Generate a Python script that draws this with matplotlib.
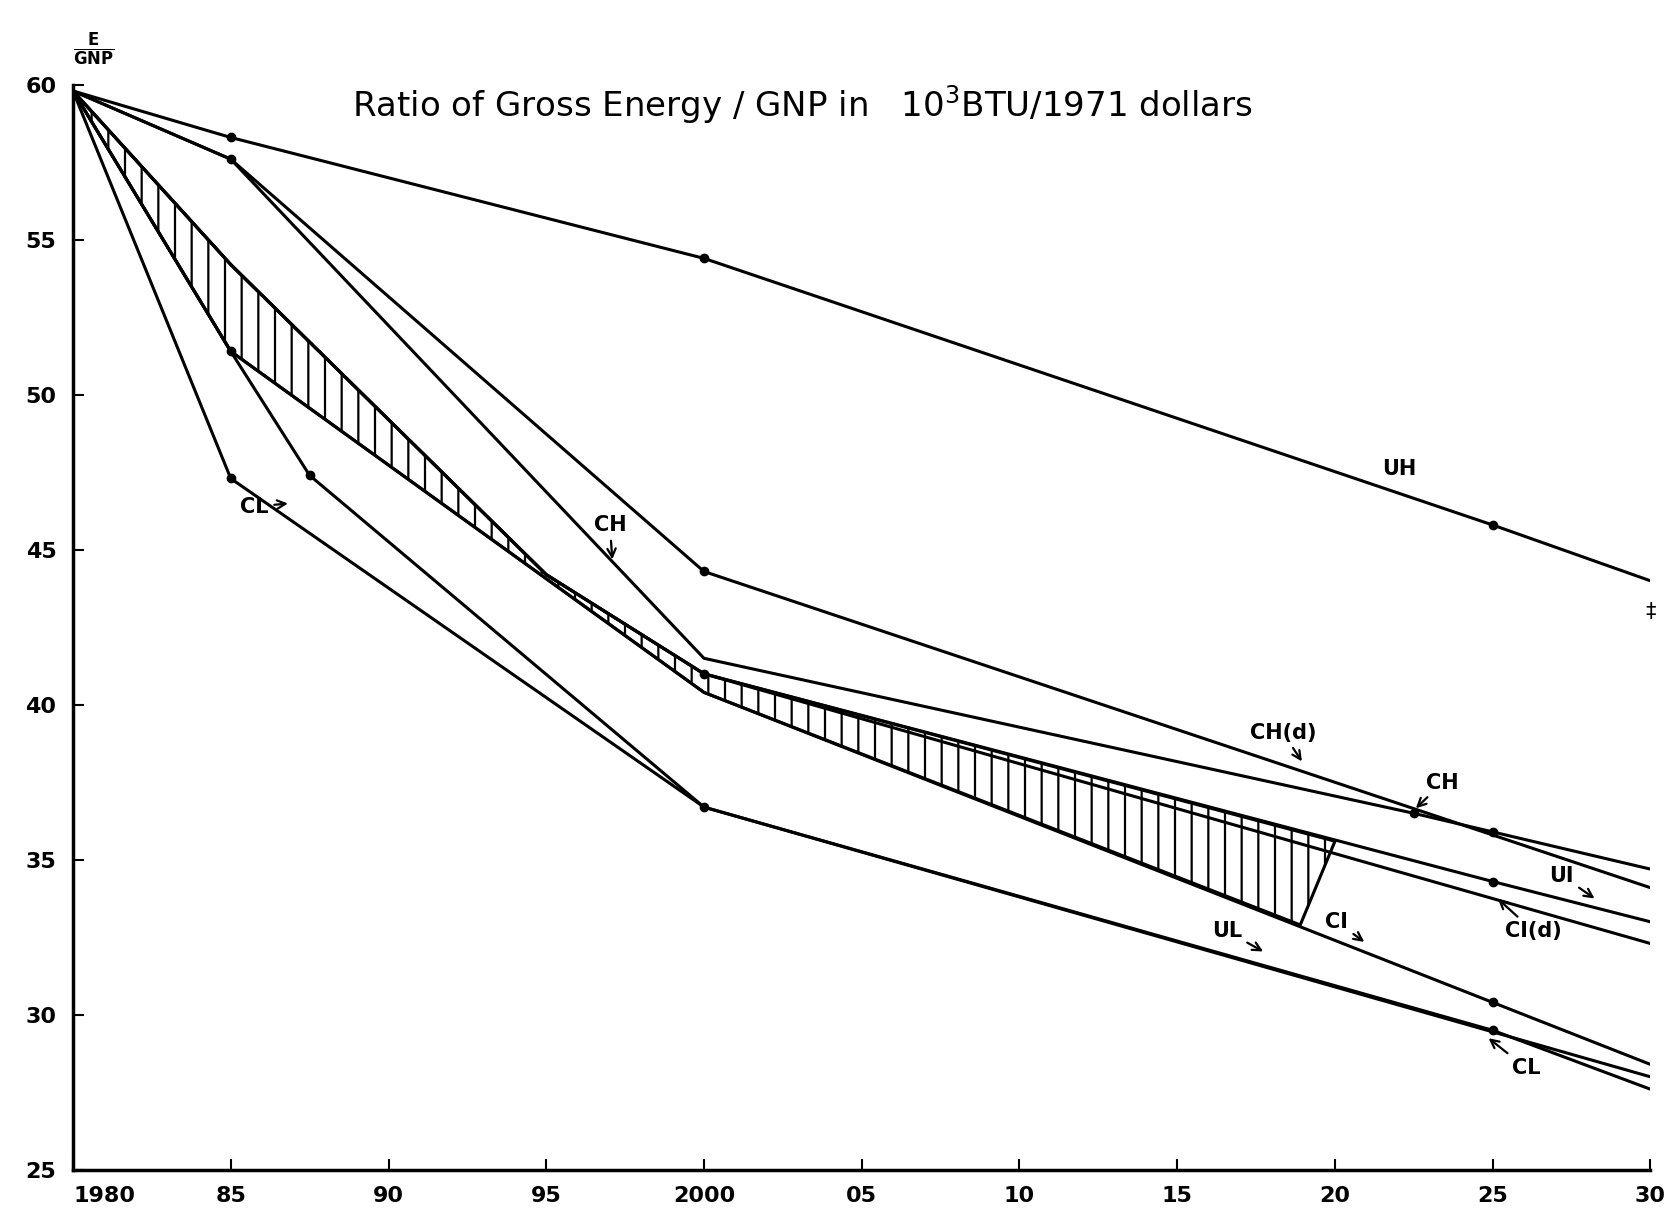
import matplotlib
matplotlib.use("Agg")
import matplotlib.pyplot as plt

plt.rcParams["hatch.linewidth"] = 1.6

# E/GNP scenarios, 10^3 BTU per 1971 dollar
uh_yr = [1980, 1985, 2000, 2025, 2030]
uh = [59.8, 58.3, 54.4, 45.8, 44.0]

chd_yr = [1980, 1985, 2000, 2030]
chd = [59.8, 57.6, 44.3, 34.1]

ch_yr = [1980, 1985, 2000, 2022.5, 2025, 2030]
ch = [59.8, 57.6, 41.5, 36.5, 35.9, 34.7]

ui_yr = [1980, 1985, 1995, 2000, 2025, 2030]
ui = [59.8, 54.2, 44.2, 41.0, 34.3, 33.0]

cid_yr = [1980, 1985, 1995, 2000, 2030]
cid = [59.8, 54.2, 44.2, 41.0, 32.3]

ci_yr = [1980, 1985, 2000, 2025, 2030]
ci = [59.8, 51.4, 40.4, 30.4, 28.4]

ul_yr = [1980, 1985, 1987.5, 2000, 2030]
ul = [59.8, 51.4, 47.4, 36.7, 28.0]

cl_yr = [1980, 1985, 2000, 2025, 2030]
cl = [59.8, 47.3, 36.7, 29.5, 27.6]

# hatched band between UI (top) and CI (bottom), closed at 2020
band_top_yr = [1980, 1985, 1995, 2000, 2020]
band_top = [59.8, 54.2, 44.2, 41.0, 35.6]
band_bot_yr = [2018.9, 2000, 1985, 1980]
band_bot = [32.9, 40.4, 51.4, 59.8]

xticks = [1980, 1985, 1990, 1995, 2000, 2005, 2010, 2015, 2020, 2025, 2030]
xlabels = ["1980", "85", "90", "95", "2000", "05", "10", "15", "20", "25", "30"]
yticks = [25, 30, 35, 40, 45, 50, 55, 60]

fig = plt.figure(figsize=(16.71, 12.11), dpi=100)
ax = fig.add_axes([0.0437, 0.034, 0.944, 0.896])

ax.fill(band_top_yr + band_bot_yr, band_top + band_bot, facecolor="none",
        edgecolor="black", hatch="|", lw=2.2)

lk = dict(color="black", lw=2.2, marker="o", ms=6)
ax.plot(uh_yr, uh, markevery=[1, 2, 3], **lk)
ax.plot(chd_yr, chd, markevery=[1, 2], **lk)
ax.plot(ch_yr, ch, markevery=[3, 4], **lk)
ax.plot(ui_yr, ui, markevery=[3, 4], **lk)
ax.plot(cid_yr, cid, markevery=[], **lk)
ax.plot(ci_yr, ci, markevery=[1, 3], **lk)
ax.plot(ul_yr, ul, markevery=[2], **lk)
ax.plot(cl_yr, cl, markevery=[1, 2, 3], **lk)

ap = dict(arrowstyle="->", color="black", lw=1.6)
fs = 15
lab = dict(fontsize=fs, fontweight="bold", arrowprops=ap)
ax.text(2021.5, 47.4, "UH", fontsize=fs, fontweight="bold")
ax.annotate("CH(d)", xy=(2019.0, 38.1), xytext=(2017.3, 38.9), **lab)
ax.annotate("CH", xy=(2022.5, 36.6), xytext=(2022.9, 37.3), **lab)
ax.annotate("UI", xy=(2028.3, 33.7), xytext=(2026.8, 34.3), **lab)
ax.annotate("CI(d)", xy=(2025.1, 33.8), xytext=(2025.4, 32.5), **lab)
ax.annotate("CI", xy=(2021.0, 32.3), xytext=(2019.7, 32.8), **lab)
ax.annotate("UL", xy=(2017.8, 32.0), xytext=(2016.1, 32.5), **lab)
ax.annotate("CL", xy=(2024.8, 29.3), xytext=(2025.6, 28.1), **lab)
ax.annotate("CL", xy=(1986.9, 46.5), xytext=(1985.3, 46.2), **lab)
ax.annotate("CH", xy=(1997.1, 44.6), xytext=(1996.5, 45.6), **lab)
ax.text(2030, 43.0, "‡", fontsize=15, ha="center", va="center")

ax.set_xlim(1980, 2030)
ax.set_ylim(25, 60)
ax.set_xticks(xticks)
ax.set_xticklabels(xlabels)
ax.set_yticks(yticks)
for s in ["top", "right"]:
    ax.spines[s].set_visible(False)
for s in ["left", "bottom"]:
    ax.spines[s].set_linewidth(2.5)
ax.tick_params(direction="in", length=8, width=1.5, labelsize=16)
ax.tick_params(axis="y", pad=12)
ax.tick_params(axis="x", pad=12)
for t in ax.get_xticklabels() + ax.get_yticklabels():
    t.set_fontweight("bold")
ax.get_xticklabels()[0].set_ha("left")

fig.text(0.48, 0.914, "Ratio of Gross Energy / GNP in   10$^3$BTU/1971 dollars",
         fontsize=24.5, ha="center", va="center")
fig.text(0.056, 0.959, r"$\mathbf{\frac{E}{GNP}}$", fontsize=17, ha="center", va="center")

fig.savefig("out.png", dpi=100)
